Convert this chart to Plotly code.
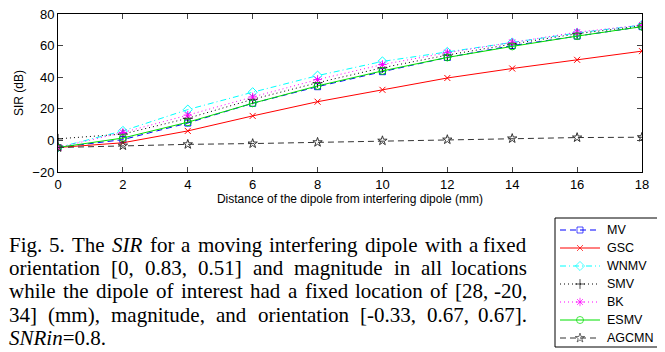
import re
import plotly.graph_objects as go

distance = [0, 2, 4, 6, 8, 10, 12, 14, 16, 18]
mv = [-4.5, 0.5, 11.0, 23.5, 34.0, 43.5, 52.5, 60.0, 66.0, 72.0]
gsc = [-4.5, -1.5, 6.0, 15.5, 24.5, 32.0, 39.5, 45.5, 51.0, 56.5]
wnmv = [-4.5, 6.0, 19.5, 30.5, 41.0, 50.0, 56.0, 62.0, 68.0, 73.0]
smv = [1.0, 4.0, 14.0, 26.0, 36.5, 46.0, 54.0, 61.0, 67.5, 72.5]
bk = [-4.5, 5.0, 16.0, 27.5, 38.5, 48.0, 55.5, 62.0, 68.5, 73.0]
esmv = [-4.5, 1.5, 11.5, 23.5, 34.5, 44.0, 52.5, 59.5, 66.0, 72.0]
agcmn = [-4.5, -3.3, -2.5, -2.0, -1.2, -0.2, 0.5, 1.2, 1.8, 2.0]

x_ticks = [0, 2, 4, 6, 8, 10, 12, 14, 16, 18]
y_ticks = [-20, 0, 20, 40, 60, 80]

caption_lines = [
    "Fig. 5. The <i>SIR</i> for a moving interfering dipole with a fixed",
    "orientation [0, 0.83, 0.51] and magnitude in all locations",
    "while the dipole of interest had a fixed location of [28, -20,",
    "34] (mm), magnitude, and orientation [-0.33, 0.67, 0.67].",
    "<i>SNRin</i>=0.8.",
]

# the page body has an 8px margin; the figure fills the rest of the window.
OFF = 8
W, H = 665 - OFF, 352 - OFF
# main plot box in window pixels
PL, PR, PT, PB = 58, 642, 14, 172

def fx(xr):  # window x -> figure pixel x
    return xr - OFF

def fy(yr):  # window y -> figure pixel y
    return yr - OFF

# Times / Liberation Serif advance widths (per 1000 em)
ROMAN = dict(zip("abcdefghijklmnopqrstuvwxyz",
                 [444, 500, 444, 500, 444, 333, 500, 500, 278, 278, 500, 278, 778,
                  500, 500, 500, 500, 333, 389, 278, 500, 500, 722, 500, 500, 444]))
ROMAN.update({"F": 556, "T": 611, "S": 556, "I": 333, "R": 667, "N": 722,
              ".": 250, ",": 250, "[": 333, "]": 333, "-": 333, "(": 333, ")": 333,
              "=": 564, " ": 250})
for d in "0123456789":
    ROMAN[d] = 500
ITALIC = dict(ROMAN)
ITALIC.update({"S": 500, "I": 333, "R": 611, "N": 667, "i": 278, "n": 500})

def word_width(word, size):
    italic = "<i>" in word
    plain = re.sub(r"<[^>]+>", "", word)
    tbl = ITALIC if italic else ROMAN
    return sum(tbl.get(c, 500) for c in plain) * size / 1000.0

series = [
    ("MV", mv, "#0000ff", "6px,4px", "square-open", 6),
    ("GSC", gsc, "#ff0000", "solid", "x-thin-open", 6),
    ("WNMV", wnmv, "#00ffff", "6px,3px,1px,3px", "diamond-open", 7),
    ("SMV", smv, "#000000", "1px,3px", "cross-thin-open", 7),
    ("BK", bk, "#ff00ff", "1px,3px", "asterisk-open", 7),
    ("ESMV", esmv, "#00e000", "solid", "circle-open", 7),
    ("AGCMN", agcmn, "#333333", "6px,4px", "star-open", 7),
]

fig = go.Figure()
for name, vals, color, dash, sym, size in series:
    fig.add_trace(go.Scatter(
        x=distance, y=vals, name=name, mode="lines+markers", showlegend=False,
        line=dict(color=color, dash=dash, width=1),
        marker=dict(symbol=sym, size=size, color=color, line=dict(width=1, color=color)),
        xaxis="x", yaxis="y",
    ))

# legend drawn on an overlay pixel axis (x2/y2 span the whole figure)
LEG_L, LEG_R, LEG_T, LEG_B = 555, 661, 218, 347
leg_y0, leg_dy = 230, 18
for k, (name, vals, color, dash, sym, size) in enumerate(series):
    yk = fy(leg_y0 + k * leg_dy)
    fig.add_trace(go.Scatter(
        x=[fx(LEG_L + 5), fx(LEG_L + 25), fx(LEG_L + 45)], y=[yk, yk, yk],
        mode="lines+markers", showlegend=False, hoverinfo="skip",
        line=dict(color=color, dash=dash, width=1),
        marker=dict(symbol=sym, size=[0, size, 0], color=color,
                    line=dict(width=1, color=color)),
        xaxis="x2", yaxis="y2", cliponaxis=False,
    ))
    fig.add_annotation(text=name, x=fx(LEG_L + 50), y=yk, xref="x2", yref="y2",
                       xanchor="left", yanchor="middle", showarrow=False,
                       font=dict(family="Liberation Sans, Arial", size=12.5, color="black"))
fig.add_shape(type="rect", xref="x2", yref="y2",
              x0=fx(LEG_L), x1=fx(LEG_R), y0=fy(LEG_T), y1=fy(LEG_B),
              line=dict(color="black", width=1), fillcolor="rgba(0,0,0,0)", layer="above")

tick_font = dict(family="Liberation Sans, Arial", size=13, color="black")
title_font = dict(family="Liberation Sans, Arial", size=12, color="black")
fig.update_layout(
    xaxis=dict(domain=[fx(PL) / W, fx(PR) / W], anchor="y",
               range=[0, 18], tickvals=x_ticks, ticks="inside", ticklen=5,
               showline=True, linecolor="black", linewidth=1, mirror="ticks",
               showgrid=False, zeroline=False, tickfont=tick_font, automargin=False,
               ticklabeloverflow="allow",
               title=dict(text="Distance of the dipole from interfering dipole (mm)",
                          font=title_font, standoff=0)),
    yaxis=dict(domain=[1 - fy(PB) / H, 1 - fy(PT) / H], anchor="x",
               range=[-20, 80], tickvals=y_ticks, ticks="inside", ticklen=5,
               showline=True, linecolor="black", linewidth=1, mirror="ticks",
               showgrid=False, zeroline=False, tickfont=tick_font, automargin=False,
               ticklabeloverflow="allow",
               title=dict(text="SIR (dB)", font=title_font, standoff=6)),
    xaxis2=dict(domain=[0, 1], anchor="y2", range=[0, W], visible=False, fixedrange=True),
    yaxis2=dict(domain=[0, 1], anchor="x2", range=[H, 0], visible=False, fixedrange=True),
)

cap_size = 21
cap_font = dict(family="Liberation Serif, Times New Roman", size=cap_size, color="black")
left_x, right_x = 8, 528
ys = [245, 268, 291, 315, 338]
for i, (line, yy) in enumerate(zip(caption_lines, ys)):
    words = line.split(" ")
    if i < len(caption_lines) - 1 and len(words) > 1:
        widths = [word_width(w, cap_size) for w in words]
        gap = (right_x - left_x - sum(widths)) / (len(words) - 1)
        xcur = left_x
        for j, (w, ww) in enumerate(zip(words, widths)):
            last = j == len(words) - 1
            fig.add_annotation(text=w, x=fx(right_x if last else xcur), y=fy(yy),
                               xref="x2", yref="y2",
                               xanchor="right" if last else "left", yanchor="middle",
                               showarrow=False, font=cap_font, borderpad=0)
            xcur += ww + gap
    else:
        fig.add_annotation(text=line, x=fx(left_x), y=fy(yy), xref="x2", yref="y2",
                           xanchor="left", yanchor="middle", showarrow=False,
                           font=cap_font, borderpad=0)

fig.update_layout(
    template="none",
    width=W, height=H,
    margin=dict(l=0, r=0, t=0, b=0, pad=0, autoexpand=False),
    paper_bgcolor="white", plot_bgcolor="rgba(0,0,0,0)",
    showlegend=False,
)

fig.write_html("out.html")
